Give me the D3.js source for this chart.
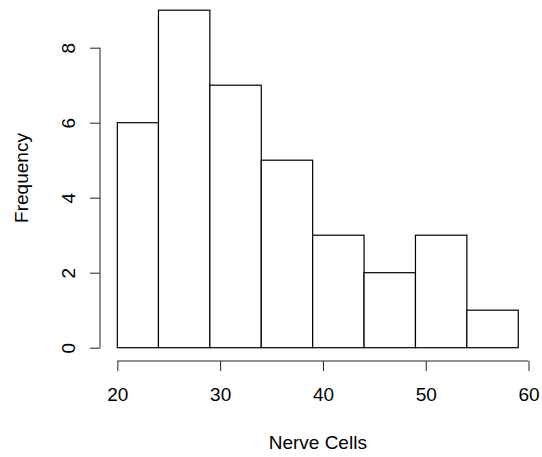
<!DOCTYPE html>
<html>
<head>
<meta charset="utf-8">
<script src="https://cdn.jsdelivr.net/npm/d3@7"></script>
<style>
  body { margin: 0; background: #fff; }
  svg text { font-family: "Liberation Sans", Arial, sans-serif; fill: #000; }
</style>
</head>
<body>
<svg id="chart" width="542" height="457"></svg>
<script>
// histogram bins (breaks) and counts
const breaks = [20, 24, 29, 34, 39, 44, 49, 54, 59];
const counts = [6, 9, 7, 5, 3, 2, 3, 1];
const xTicks = [20, 30, 40, 50, 60];
const yTicks = [0, 2, 4, 6, 8];

const bins = counts.map((c, i) => ({ x0: breaks[i], x1: breaks[i + 1], count: c }));

const svg = d3.select('#chart');

// R style: data range padded by 4% each side
const x = d3.scaleLinear().domain([18.44, 60.56]).range([101.3, 534.3]);
const y = d3.scaleLinear().domain([0, 8]).range([347.7, 47.7]);

svg.selectAll('.bar')
  .data(bins)
  .enter()
  .append('rect')
  .attr('class', 'bar')
  .attr('x', d => x(d.x0))
  .attr('y', d => y(d.count))
  .attr('width', d => x(d.x1) - x(d.x0))
  .attr('height', d => y(0) - y(d.count))
  .attr('fill', 'white')
  .attr('stroke', 'black')
  .attr('stroke-width', 1.2);

// x axis
const xAxis = svg.append('g')
  .attr('transform', 'translate(0,361)')
  .call(d3.axisBottom(x).tickValues(xTicks).tickSize(10).tickPadding(17).tickFormat(d3.format('d')));
xAxis.select('.domain').attr('d', `M${x(20)},0H${x(60)}`).attr('stroke', '#222');
xAxis.selectAll('line').attr('stroke', '#222');
xAxis.selectAll('text').attr('font-size', 19).attr('font-family', 'Liberation Sans, Arial, sans-serif');

// y axis, labels drawn rotated like R's las=0
const yAxis = svg.append('g')
  .attr('transform', 'translate(100,0)')
  .call(d3.axisLeft(y).tickValues(yTicks).tickSize(10));
yAxis.select('.domain').attr('d', `M0,${y(0)}V${y(8)}`).attr('stroke', '#222');
yAxis.selectAll('line').attr('stroke', '#222');
yAxis.selectAll('.tick text').remove();
yAxis.selectAll('.tick')
  .append('text')
  .attr('transform', 'translate(-25.5,0) rotate(-90)')
  .attr('text-anchor', 'middle')
  .attr('font-size', 19)
  .attr('fill', '#000')
  .text(d => d);

// axis titles
svg.append('text')
  .attr('x', 317.8)
  .attr('y', 449)
  .attr('text-anchor', 'middle')
  .attr('font-size', 19)
  .text('Nerve Cells');

svg.append('text')
  .attr('transform', 'translate(28,178) rotate(-90)')
  .attr('text-anchor', 'middle')
  .attr('font-size', 19)
  .text('Frequency');
</script>
</body>
</html>
